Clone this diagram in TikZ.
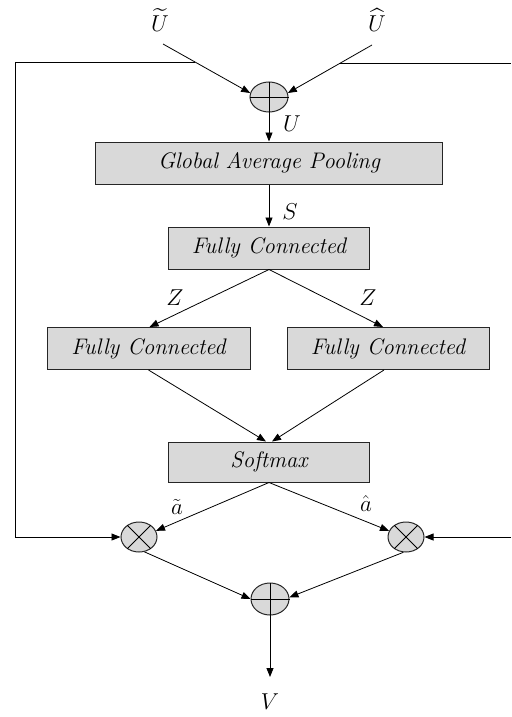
\RequirePackage{fix-cm}
\documentclass[tikz,border=0pt]{standalone}
\usepackage{amsmath}
\usepackage{fontspec}
\usetikzlibrary{arrows.meta,shapes.geometric,calc}
\definecolor{boxfill}{HTML}{D9D9D9}
\begin{document}
\begin{tikzpicture}[x=1pt,y=-1pt,
  font=\fontsize{23}{27}\selectfont,
  arr/.style={draw=black,line width=0.8pt,-{Triangle[length=9pt,width=7pt]}},
  wire/.style={draw=black,line width=0.8pt},
  blockbox/.style={draw=black!85,line width=1pt,fill=boxfill,minimum height=42pt,inner sep=0pt,font=\fontsize{22.5}{26}\selectfont\itshape},
  opnode/.style={ellipse,draw=black!85,line width=1pt,fill=boxfill,minimum width=38pt,minimum height=30pt,inner sep=0pt},
  lbl/.style={inner sep=1pt,font=\fontsize{23}{27}\selectfont}]
\useasboundingbox (0,0) rectangle (511,717);

% inputs
\node[lbl] (ut) at (160,20) {$\widetilde{U}$};
\node[lbl] (uh) at (377,20) {$\widehat{U}$};
\coordinate (a1) at (163,44);
\coordinate (a2) at (372,45);

% sum of the two branches
\node[opnode] (plus1) at (269,97) {};
\draw[line width=0.8pt] (plus1.west) -- (plus1.east) (plus1.north) -- (plus1.south);

% processing blocks
\node[blockbox,minimum width=347pt] (gap) at (269,163) {Global Average Pooling};
\node[blockbox,minimum width=201pt] (fc1) at (269,248) {Fully Connected};
\node[blockbox,minimum width=203pt] (fcL) at (148.5,348.5) {Fully Connected};
\node[blockbox,minimum width=202pt] (fcR) at (388,348.5) {Fully Connected};
\node[blockbox,minimum width=201pt,minimum height=40pt] (sm) at (269,462) {Softmax};

% weighting and final sum
\node[opnode,minimum width=36pt] (mulL) at (139,537) {};
\node[opnode,minimum width=36pt] (mulR) at (406,537) {};
\draw[line width=0.8pt] (mulL.45) -- (mulL.225) (mulL.135) -- (mulL.315);
\draw[line width=0.8pt] (mulR.45) -- (mulR.225) (mulR.135) -- (mulR.315);
\node[opnode,minimum height=32pt] (plus2) at (270,599) {};
\draw[line width=0.8pt] (plus2.west) -- (plus2.east) (plus2.north) -- (plus2.south);
\coordinate (vout) at (270,677);
\node[lbl] (v) at (270,702) {$V$};

% edge labels
\node[lbl] (lu) at (292,124) {$U$};
\node[lbl] (ls) at (290,212) {$S$};
\node[lbl] (lz1) at (175,298) {$Z$};
\node[lbl] (lz2) at (368,298) {$Z$};
\node[lbl] (la1) at (177,507) {$\tilde{a}$};
\node[lbl] (la2) at (366,504) {$\hat{a}$};

% input arrows
\draw[arr] (a1) -- (plus1.168);
\draw[arr] (a2) -- (plus1.12);

% skip connections taken from the input arrows
\coordinate (j1) at ($(a1)!0.367!(plus1.168)$);
\coordinate (j2) at ($(a2)!0.375!(plus1.12)$);
\coordinate (cl) at (15,0 |- j1);
\coordinate (cr) at (511,0 |- j2);
\coordinate (cr2) at (511,537);
\draw[wire] (j1) -- (cl);
\draw[arr] (cl) |- (mulL);
\draw[wire] (j2) -- (cr);
\draw[arr] (cr2) -- (mulR);

% main path
\draw[arr] (plus1) -- (gap);
\draw[arr] (gap) -- (fc1);
\draw[arr] (fc1.south) -- ([xshift=1pt]fcL.north);
\draw[arr] (fc1.south) -- ([xshift=-5pt]fcR.north);
\draw[arr] (fcL.south) -- ([xshift=-3pt]sm.north);
\draw[arr] ([xshift=-4pt]fcR.south) -- ([xshift=3pt]sm.north);
\draw[arr] (sm.south) -- (mulL.20);
\draw[arr] (sm.south) -- (mulR.160);
\draw[arr] (mulL.-70) -- (plus2.180);
\draw[arr] (mulR.-100) -- (plus2.5);
\draw[arr] (plus2) -- (vout);
\end{tikzpicture}
\end{document}
